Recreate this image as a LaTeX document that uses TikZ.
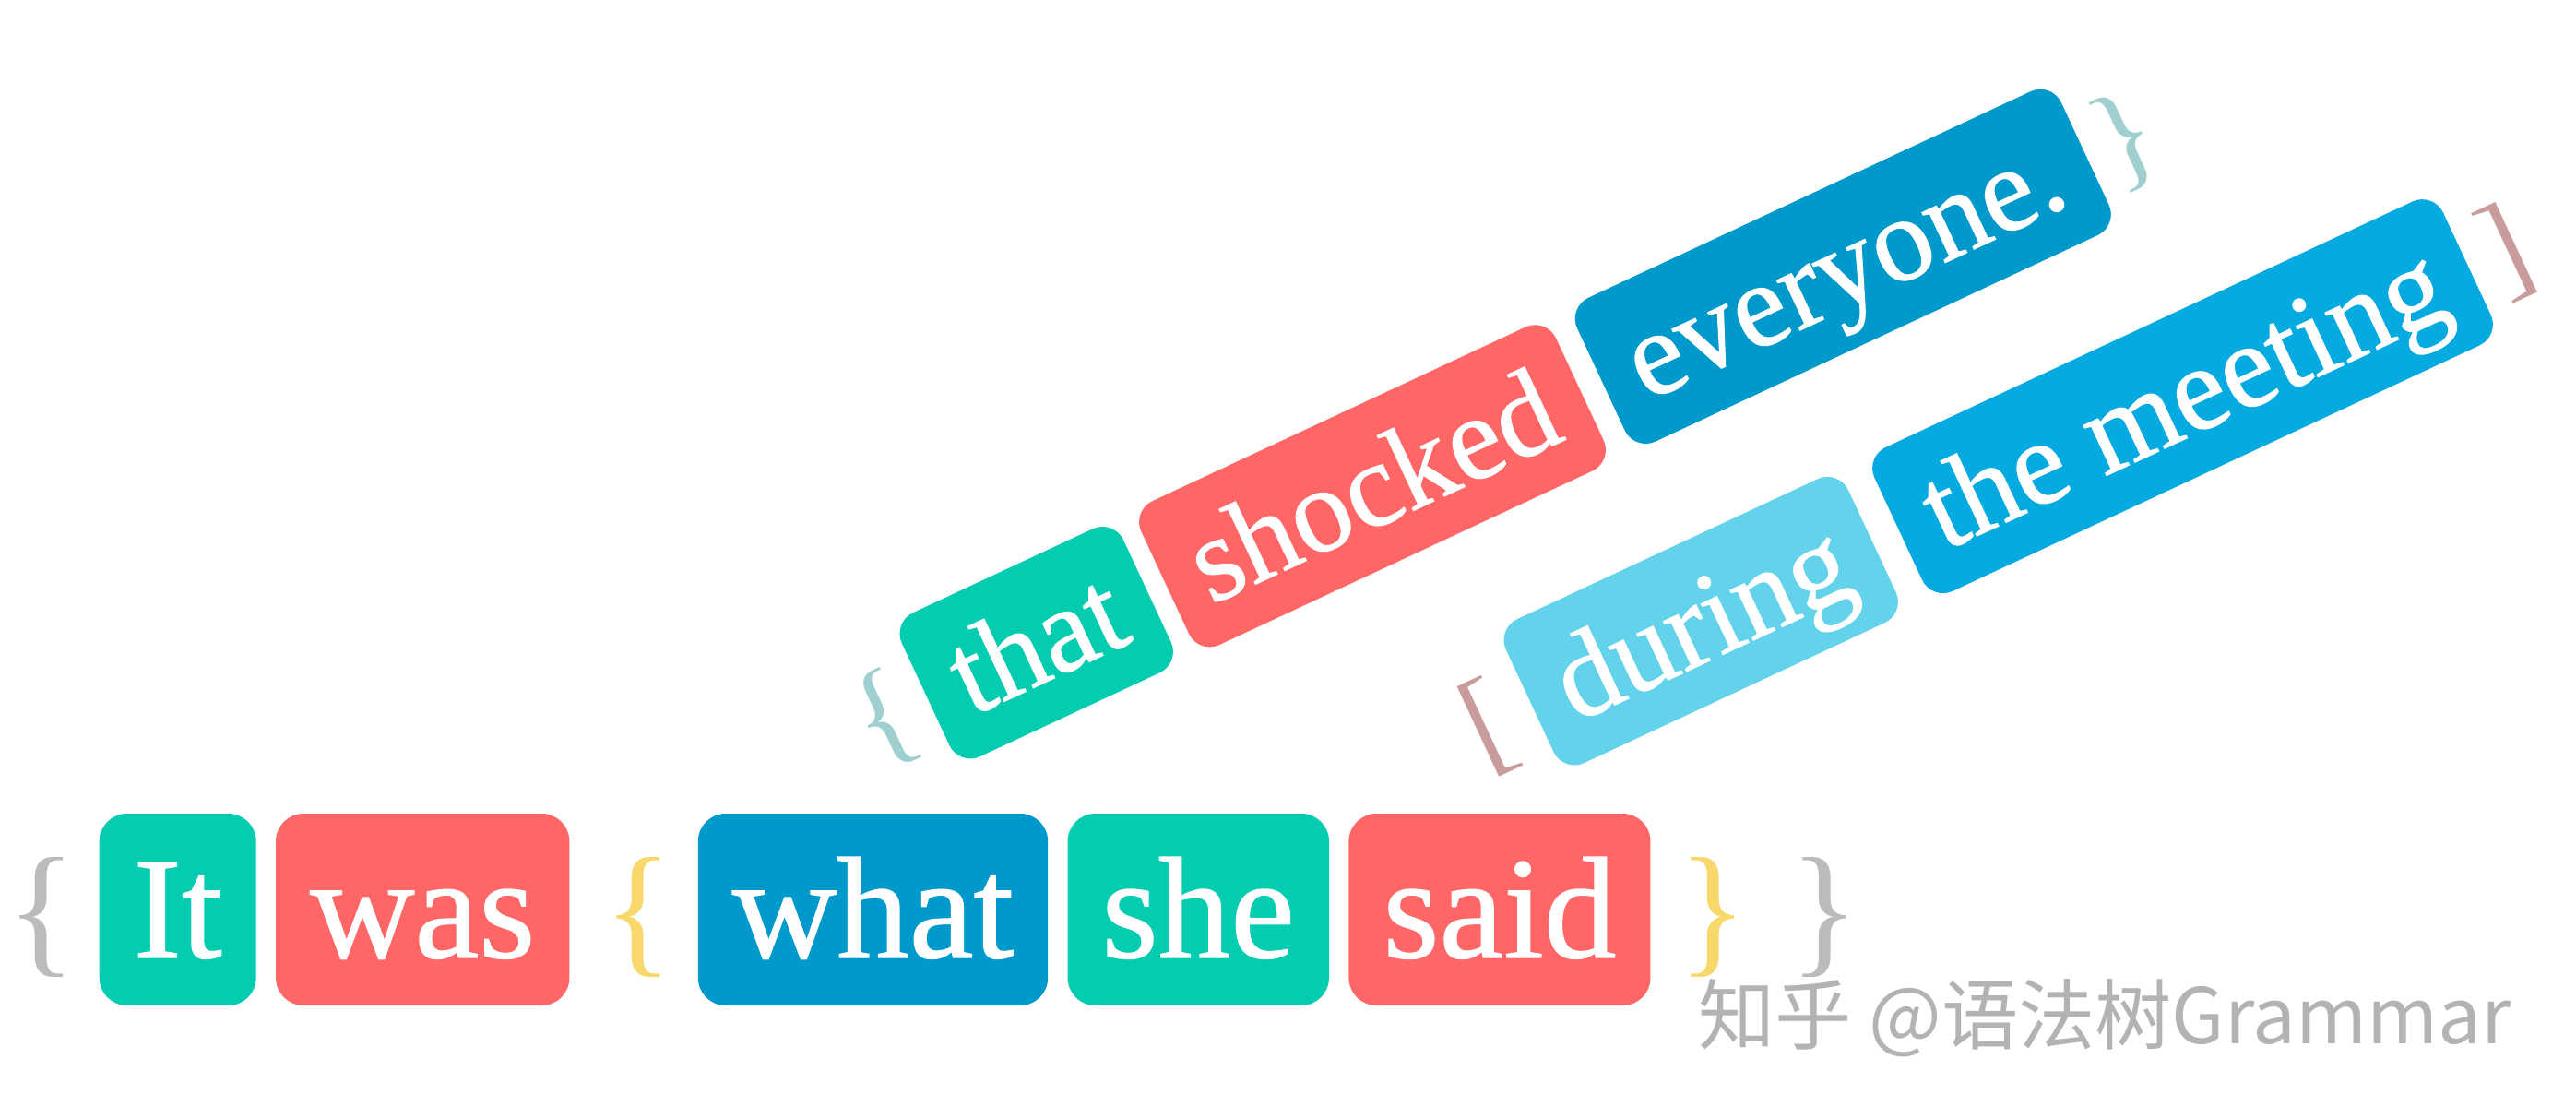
\documentclass[tikz,border=0pt]{standalone}
\usepackage{fontspec}
\setmainfont{Liberation Serif}
\newfontfamily\wordserif[FakeBold=0.9]{Liberation Serif}
\newfontfamily\cjkfont{Noto Sans CJK SC}
\usetikzlibrary{positioning}
\newcommand\wordfont[1]{\wordserif\fontsize{#1}{#1}\selectfont}
\definecolor{teal1}{RGB}{3,204,176}
\definecolor{coral}{RGB}{255,102,102}
\definecolor{blue1}{RGB}{0,153,204}
\definecolor{blue2}{RGB}{5,170,224}
\definecolor{sky}{RGB}{98,211,235}
\definecolor{grayb}{RGB}{187,187,187}
\definecolor{yellowb}{RGB}{248,215,107}
\definecolor{tealb}{RGB}{159,207,207}
\definecolor{roseb}{RGB}{201,155,155}
\definecolor{wm}{RGB}{179,179,179}
\begin{document}
\begin{tikzpicture}[
  word/.style={fill=#1,text=white,rounded corners=0.3cm,inner xsep=0.37cm,
    minimum height=2.08cm,text height=1.18cm,text depth=0.14cm,
    font=\wordfont{44.7pt}},
  tilt/.style={word=#1,rotate=25,anchor=west,minimum height=1.72cm,
    rounded corners=0.25cm,inner xsep=0.35cm,text height=0.98cm,
    text depth=0.12cm,font=\wordfont{37pt}},
  brace/.style={text=#1,inner sep=0pt,text height=1.18cm,text depth=0.14cm,
    font=\fontsize{44.7pt}{44.7pt}\selectfont},
  tbrace/.style={brace=#1,rotate=25,text height=0.98cm,text depth=0.12cm,
    font=\fontsize{37pt}{37pt}\selectfont}]

  \useasboundingbox (0,0) rectangle (27.93,12.11);

  \node[word=teal1,anchor=west] (It) at (1.07,2.25) {It};
  \node[word=coral,right=0.2cm of It] (was) {was};
  \node[word=blue1,right=1.38cm of was] (what) {what};
  \node[word=teal1,right=0.2cm of what] (she) {she};
  \node[word=coral,right=0.2cm of she] (said) {said};

  \node[brace=grayb] (lb1) at ([xshift=-0.62cm]It.west) {\{};
  \node[brace=yellowb] (lb2) at ([xshift=-0.64cm]what.west) {\{};
  \node[brace=yellowb] (rb2) at ([xshift=0.67cm]said.east) {\}};
  \node[brace=grayb] (rb1) at ([xshift=1.88cm]said.east) {\}};

  \node[tilt=teal1] (that) at (10.03,4.58) {that};
  \node[tilt=coral] (shocked) at ([shift={(25:0.2)}]that.east) {shocked};
  \node[tilt=blue1] (everyone) at ([shift={(25:0.24)}]shocked.east) {everyone.};
  \node[tilt=sky] (during) at (16.58,4.51) {during};
  \node[tilt=blue2] (meeting) at ([shift={(25:0.3)}]during.east) {the meeting};

  \node[tbrace=tealb] (lb3) at ([shift={(25:-0.51)}]that.west) {\{};
  \node[tbrace=tealb] (rb3) at ([shift={(25:0.46)}]everyone.east) {\}};
  \node[tbrace=roseb] (lb4) at ([shift={(25:-0.52)}]during.west) {[};
  \node[tbrace=roseb] (rb4) at ([shift={(25:0.44)}]meeting.east) {]};

  \node[text=wm,font=\cjkfont\fontsize{23.7pt}{28pt}\selectfont] (mark) at (22.82,1.07) {知乎 @语法树Grammar};
\end{tikzpicture}
\end{document}
